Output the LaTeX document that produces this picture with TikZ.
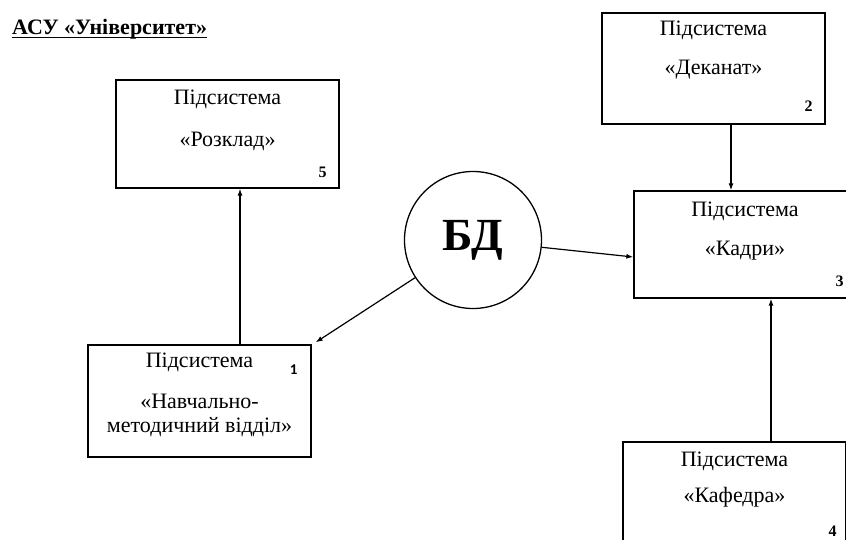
\documentclass[tikz,border=0pt]{standalone}
\usepackage{fontspec}
\setmainfont{Liberation Serif}
\newfontfamily\calfont{Carlito}
\usetikzlibrary{arrows.meta,calc}
\tikzset{
  box/.style={draw, rectangle, line width=1.3pt, minimum width=223pt, minimum height=108pt, inner sep=0pt},
  txt/.style={inner sep=0pt, font=\fontsize{22}{26}\selectfont},
  num/.style={inner sep=0pt, font=\bfseries\fontsize{16}{18}\selectfont},
  arr/.style={-{Latex[length=7pt,width=5pt]}, line width=1.2pt},
}
\begin{document}
\begin{tikzpicture}[x=1pt,y=-1pt]
\useasboundingbox (0,0) rectangle (846,539);
\clip (0,0) rectangle (846,539);
% title
\node[inner sep=0pt, anchor=base west, font=\bfseries\fontsize{22}{26}\selectfont] (title) at (12,34) {АСУ «Університет»};
\draw[line width=1.1pt] ($(title.base west)+(0,3.5)$) -- ($(title.base east)+(0,3.5)$);
% boxes
\node[box] (rozklad) at (227.5,134) {};
\node[box, minimum height=111pt] (dekanat) at (713.5,68.5) {};
\node[box, minimum height=107pt, minimum width=222pt] (kadry) at (745,244.5) {};
\node[box, minimum height=112pt] (navch) at (199.5,401) {};
\node[box] (kafedra) at (734.5,496) {};
\node[circle, draw, line width=1.3pt, minimum size=137pt, inner sep=0pt, font=\bfseries\fontsize{46}{50}\selectfont] (bd) at (473,240) {БД};
% texts
\node[txt] (rA) at ($(rozklad.north)+(0,20)$) {Підсистема};
\node[txt] (rB) at ($(rozklad.north)+(0,62)$) {«Розклад»};
\node[num] (r5) at ($(rozklad.south east)+(-17,-16)$) {5};
\node[txt] (dA) at ($(dekanat.north)+(0,18)$) {Підсистема};
\node[txt] (dB) at ($(dekanat.north)+(0,57)$) {«Деканат»};
\node[num] (d2) at ($(dekanat.south east)+(-17,-18)$) {2};
\node[txt] (kA) at ($(kadry.north)+(0,21)$) {Підсистема};
\node[txt] (kB) at ($(kadry.north)+(0,60)$) {«Кадри»};
\node[num] (k3) at ($(kadry.south east)+(-17,-17)$) {3};
\node[txt] (nA) at ($(navch.north)+(0,18)$) {Підсистема};
\node[txt] (nB) at ($(navch.north)+(0,57)$) {«Навчально-};
\node[txt] (nC) at ($(navch.north)+(0,83)$) {методичний відділ»};
\node[inner sep=0pt, font=\calfont\bfseries\fontsize{15}{17}\selectfont] (n1) at ($(navch.north east)+(-18,25)$) {1};
\node[txt] (fA) at ($(kafedra.north)+(0,20)$) {Підсистема};
\node[txt] (fB) at ($(kafedra.north)+(0,56)$) {«Кафедра»};
\node[num] (f4) at ($(kafedra.north east)+(-14,90)$) {4};
% connector anchors
\coordinate (nr) at ($(navch.north)+(40.5,0)$);
\coordinate (dk) at ($(dekanat.south)+(17.5,0)$);
\coordinate (fk) at ($(kafedra.north)+(36.5,0)$);
\coordinate (kw) at ($(kadry.west)+(0,12.5)$);
\coordinate (ne) at ($(navch.north east)+(4,-2)$);
% connectors
\draw[arr] (nr) -- (nr |- rozklad.south);
\draw[arr] (dk) -- (dk |- kadry.north);
\draw[arr] (fk) -- (fk |- kadry.south);
\draw[arr] (bd) -- (kw);
\draw[arr] (bd) -- (ne);
\end{tikzpicture}
\end{document}
